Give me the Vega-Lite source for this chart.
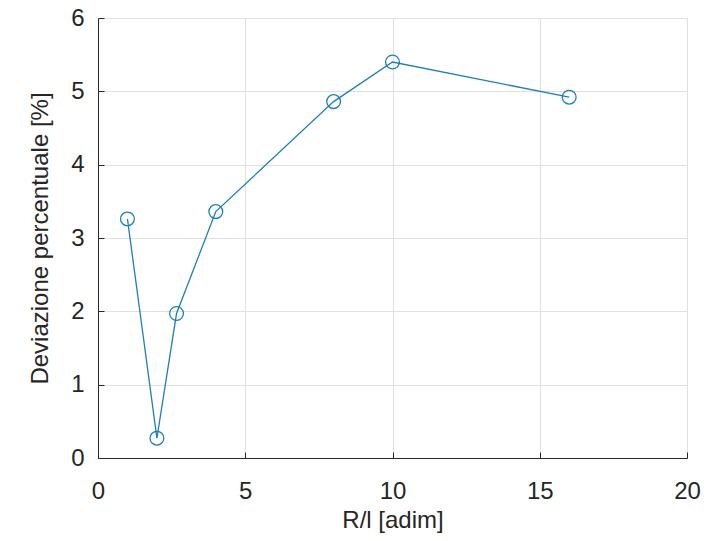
{
  "$schema": "https://vega.github.io/schema/vega-lite/v6.json",
  "width": 589,
  "height": 440,
  "autosize": {"type": "none"},
  "padding": {"left": 98, "top": 18, "right": 17, "bottom": 83},
  "background": "white",
  "config": {
    "view": {"stroke": null},
    "font": "Liberation Sans",
    "axis": {
      "labelFont": "Liberation Sans",
      "titleFont": "Liberation Sans",
      "labelFontSize": 24,
      "titleFontSize": 24,
      "labelColor": "#262626",
      "titleColor": "#262626",
      "titleFontWeight": "normal",
      "domainColor": "#262626",
      "domainWidth": 1,
      "tickColor": "#262626",
      "tickSize": -6,
      "tickWidth": 1,
      "gridColor": "#e0e0e0",
      "gridWidth": 1
    }
  },
  "data": {
    "values": [
      {"x": 1, "y": 3.26},
      {"x": 2, "y": 0.27},
      {"x": 2.667, "y": 1.97},
      {"x": 4, "y": 3.36},
      {"x": 8, "y": 4.86},
      {"x": 10, "y": 5.4},
      {"x": 16, "y": 4.92}
    ]
  },
  "layer": [
    {
      "mark": {"type": "line", "color": "#1f7fb8", "strokeWidth": 1.3},
      "encoding": {
        "x": {
          "field": "x", "type": "quantitative",
          "scale": {"domain": [0, 20], "nice": false, "zero": false},
          "axis": {"values": [0, 5, 10, 15, 20], "format": "d", "title": "R/l [adim]", "labelPadding": 27, "titlePadding": 5, "labelFlush": false}
        },
        "y": {
          "field": "y", "type": "quantitative",
          "scale": {"domain": [0, 6], "nice": false},
          "axis": {"values": [0, 1, 2, 3, 4, 5, 6], "format": "d", "title": "Deviazione percentuale [%]", "labelPadding": 20, "titlePadding": 18, "labelFlush": false}
        }
      }
    },
    {
      "mark": {"type": "point", "shape": "circle", "filled": false, "color": "#1f7fb8", "strokeWidth": 1.3, "size": 190, "opacity": 1},
      "encoding": {
        "x": {"field": "x", "type": "quantitative"},
        "y": {"field": "y", "type": "quantitative"}
      }
    }
  ]
}
